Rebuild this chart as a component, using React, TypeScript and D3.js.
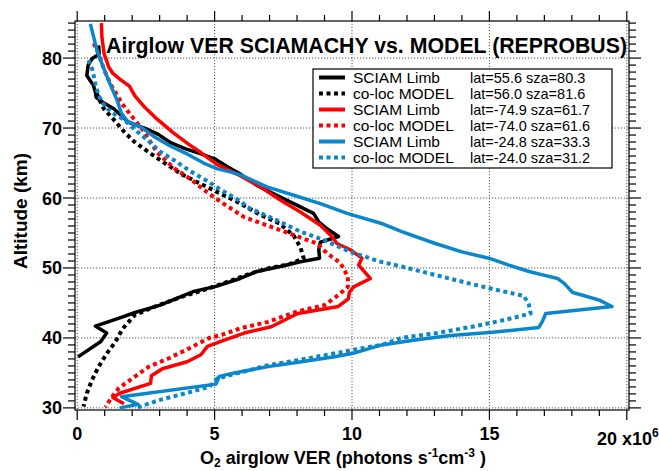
import React from "react";
import * as d3 from "d3";

type P = [number, number];

// [VER (1e6 photons s-1 cm-3), altitude km]
const blackLimb: P[] = [
  [0.78, 81.8], [0.8, 80.6], [0.54, 79.9], [0.4, 79.0], [0.35, 77.5], [0.47, 76.8], [0.59, 76.1],
  [0.66, 75.2], [0.69, 74.4], [0.96, 73.6], [1.32, 72.8], [1.6, 71.8], [1.87, 70.8], [2.45, 70.0],
  [2.95, 69.1], [3.4, 67.9], [3.9, 67.1], [4.5, 66.3], [5.0, 65.6], [5.5, 64.4], [5.9, 63.5],
  [6.54, 61.8], [7.15, 60.6], [7.88, 59.2], [8.6, 57.8], [8.79, 56.6], [9.09, 55.6], [9.51, 54.5],
  [9.19, 54.1], [8.85, 53.7], [8.79, 52.6], [8.82, 51.4], [8.12, 50.9], [7.39, 50.2], [6.54, 49.5],
  [5.93, 48.5], [5.08, 47.4], [4.2, 46.6], [3.02, 44.7], [2.08, 43.6], [1.5, 42.8], [0.66, 41.7],
  [1.07, 40.7], [0.86, 39.5], [0.03, 37.3],
];
const blackModel: P[] = [
  [0.7, 75.0], [0.96, 72.8], [1.33, 71.2], [1.7, 69.5], [2.06, 68.1], [2.55, 66.7], [3.1, 65.2],
  [3.8, 63.4], [4.4, 62.2], [4.97, 61.1], [5.8, 59.5], [6.66, 57.6], [7.39, 56.3], [7.88, 54.6],
  [8.12, 53.0], [8.24, 51.4], [7.7, 50.5], [7.0, 50.0], [6.3, 49.2], [5.6, 48.2], [4.8, 47.1],
  [3.9, 46.0], [2.9, 44.6], [2.1, 43.3], [1.65, 41.3], [1.4, 39.5], [1.08, 37.8], [0.78, 35.9],
  [0.54, 34.0], [0.35, 32.1], [0.23, 30.2],
];
const redLimb: P[] = [
  [0.88, 85.0], [0.9, 83.0], [0.98, 80.6], [1.15, 78.7], [1.3, 77.8], [1.55, 77.0], [1.9, 76.0],
  [2.1, 74.6], [2.45, 73.0], [2.9, 71.3], [3.5, 69.3], [4.05, 67.7], [4.5, 66.5], [5.08, 64.8],
  [5.93, 63.2], [6.66, 61.6], [7.39, 59.7], [8.12, 58.0], [8.85, 56.1], [9.27, 54.5], [9.45, 53.5],
  [9.94, 52.6], [10.36, 51.4], [10.24, 50.4], [10.67, 48.5], [10.06, 47.3], [9.9, 46.5],
  [9.87, 45.6], [9.5, 44.5], [8.77, 44.0], [8.03, 43.5], [7.06, 41.6], [6.08, 40.7], [5.23, 39.5],
  [4.74, 38.8], [4.5, 37.6], [4.0, 36.6], [3.1, 35.6], [2.7, 34.6], [2.67, 33.5], [1.55, 32.1],
  [1.3, 31.5], [1.7, 30.6],
];
const redModel: P[] = [
  [0.6, 82.1], [0.78, 80.6], [0.9, 79.2], [1.09, 77.3], [1.27, 75.9], [1.45, 74.7], [1.63, 73.5],
  [1.94, 71.9], [2.43, 69.5], [2.91, 66.5], [3.55, 64.2], [4.13, 62.7], [4.6, 61.2], [5.2, 59.5],
  [6.06, 57.3], [6.9, 56.1], [7.88, 54.7], [8.73, 53.5], [9.09, 52.1], [9.58, 50.7], [9.85, 48.8],
  [9.85, 47.3], [9.5, 46.1], [9.0, 44.7], [8.03, 43.8], [6.94, 42.3], [5.96, 41.4], [5.23, 40.4],
  [4.8, 40.0], [4.07, 38.5], [3.34, 37.1], [2.61, 35.9], [2.0, 34.2], [1.51, 32.8], [1.27, 31.6],
  [1.02, 30.1],
];
const blueLimb: P[] = [
  [0.48, 84.9], [0.6, 83.0], [0.72, 81.1], [0.9, 79.2], [1.09, 77.3], [1.27, 75.6], [1.45, 74.0],
  [1.6, 72.2], [1.82, 71.0], [2.3, 70.2], [2.79, 68.8], [3.4, 67.4], [4.0, 66.3], [4.6, 65.0],
  [5.08, 64.2], [5.6, 63.7], [6.0, 63.2], [6.9, 61.6], [7.88, 60.4], [8.85, 59.2], [9.82, 57.8],
  [11.05, 56.4], [11.81, 55.2], [13.03, 53.5], [14.0, 52.3], [14.98, 51.4], [15.71, 50.4],
  [16.44, 49.5], [17.05, 48.9], [17.48, 48.5], [17.72, 47.8], [18.03, 46.5], [18.39, 46.1],
  [19.0, 45.4], [19.46, 44.5], [17.05, 43.5], [16.92, 42.3], [16.8, 41.5], [15.1, 40.8],
  [13.5, 40.3], [12.3, 39.7], [11.08, 39.0], [10.04, 37.8], [9.37, 37.3], [8.16, 36.6],
  [6.94, 35.9], [5.72, 35.0], [5.17, 34.5], [5.05, 33.4], [1.61, 31.6], [2.21, 30.5], [1.54, 30.0],
];
const blueModel: P[] = [
  [0.41, 79.7], [0.54, 78.5], [0.6, 77.5], [0.66, 76.3], [0.78, 74.7], [0.9, 73.7], [1.09, 72.8],
  [1.27, 72.2], [1.7, 71.2], [2.18, 69.5], [2.55, 68.3], [3.03, 66.6], [3.52, 65.4], [4.13, 63.8],
  [4.74, 62.4], [5.3, 61.0], [5.96, 59.5], [6.18, 58.7], [7.27, 56.8], [8.12, 55.2], [8.97, 54.0],
  [9.94, 52.3], [11.03, 50.9], [11.81, 50.2], [13.03, 49.0], [14.25, 47.8], [15.22, 46.9],
  [16.26, 46.0], [16.44, 44.7], [16.5, 43.5], [15.59, 42.6], [14.5, 41.7], [13.1, 40.7],
  [11.8, 40.0], [11.08, 39.0], [10.04, 38.3], [8.16, 36.9], [6.94, 36.1], [5.1, 34.2],
  [4.8, 33.0], [3.95, 32.1], [2.97, 31.1], [2.15, 30.0],
];

const seriesNames = ["SCIAM Limb", "co-loc MODEL", "SCIAM Limb", "co-loc MODEL", "SCIAM Limb", "co-loc MODEL"];
const seriesInfo = [
  "lat=55.6 sza=80.3",
  "lat=56.0 sza=81.6",
  "lat=-74.9 sza=61.7",
  "lat=-74.0 sza=61.6",
  "lat=-24.8 sza=33.3",
  "lat=-24.0 sza=31.2",
];
const seriesData = [blackLimb, blackModel, redLimb, redModel, blueLimb, blueModel];
const seriesColors = ["#000000", "#000000", "#ff0000", "#ff0000", "#0a87cc", "#0a87cc"];
const seriesDotted = [false, true, false, true, false, true];

const xMajor = [0, 5, 10, 15, 20];
const xMinor = d3.range(0, 21, 1);
const yMajor = [30, 40, 50, 60, 70, 80];
const yMinor = d3.range(30, 86, 1);

const W = 659;
const H = 471;
const L = 75, R = 629, T = 21, B = 410;

export default function App() {
  const x = d3.scaleLinear().domain([-0.08, 20.08]).range([L, R]);
  const y = d3.scaleLinear().domain([29.7, 85.3]).range([B, T]);
  const line = d3.line<P>().x((d) => x(d[0])).y((d) => y(d[1]));
  const font = "'Liberation Sans', Arial, Helvetica, sans-serif";

  return (
    <svg width={W} height={H} style={{ position: "absolute", left: 0, top: 0, background: "#fff" }} fontFamily={font}>
      <defs>
        <clipPath id="plotclip">
          <rect x={L} y={T} width={R - L} height={B - T} />
        </clipPath>
      </defs>
      <rect x={0} y={0} width={W} height={H} fill="#fff" />
      {/* grid */}
      <g stroke="#555" strokeWidth={1} strokeDasharray="1.2 1.8">
        {xMajor.map((v) => (
          <line key={"gx" + v} x1={x(v)} x2={x(v)} y1={T} y2={B} />
        ))}
        {yMajor.map((v) => (
          <line key={"gy" + v} x1={L} x2={R} y1={y(v)} y2={y(v)} />
        ))}
      </g>
      {/* frame */}
      <rect x={L} y={T} width={R - L} height={B - T} fill="none" stroke="#000" strokeWidth={1.2} />
      {/* ticks */}
      <g stroke="#000" strokeWidth={1.2}>
        {xMinor.map((v) => {
          const big = v % 5 === 0;
          const len = big ? 10 : 6;
          return (
            <g key={"tx" + v}>
              <line x1={x(v)} x2={x(v)} y1={B} y2={B + len} />
              <line x1={x(v)} x2={x(v)} y1={T} y2={T - len} />
            </g>
          );
        })}
        {yMinor.map((v) => {
          const big = v % 10 === 0;
          const len = big ? 12 : 7;
          return (
            <g key={"ty" + v}>
              <line x1={L} x2={L - len} y1={y(v)} y2={y(v)} />
              <line x1={R} x2={R + len} y1={y(v)} y2={y(v)} />
            </g>
          );
        })}
      </g>
      {/* tick labels */}
      <g fontWeight="bold" fontSize={18} fill="#000">
        {yMajor.map((v) => (
          <text key={"ly" + v} x={L - 13} y={y(v) + 6.5} textAnchor="end">
            {v}
          </text>
        ))}
        {xMajor.slice(0, 4).map((v) => (
          <text key={"lx" + v} x={x(v)} y={440} textAnchor="middle">
            {v}
          </text>
        ))}
        <text x={597} y={445} textAnchor="start">
          20 x10<tspan dy={-8} fontSize={12}>6</tspan>
        </text>
      </g>
      {/* axis titles */}
      <text x={343} y={464} textAnchor="middle" fontWeight="bold" fontSize={18}>
        O<tspan dy={2.5} fontSize={12}>2</tspan>
        <tspan dy={-2.5}> airglow VER (photons s</tspan>
        <tspan dy={-7} fontSize={12}>-1</tspan>
        <tspan dy={7}>cm</tspan>
        <tspan dy={-7} fontSize={12}>-3</tspan>
        <tspan dy={7}> )</tspan>
      </text>
      <text transform="translate(27,211) rotate(-90)" textAnchor="middle" fontWeight="bold" fontSize={19}>
        Altitude (km)
      </text>
      {/* data */}
      <g clipPath="url(#plotclip)" fill="none">
        {seriesData.map((d, i) => (
          <path
            key={"s" + i}
            d={line(d) || ""}
            stroke={seriesColors[i]}
            strokeWidth={seriesDotted[i] ? 4 : 3.5}
            strokeDasharray={seriesDotted[i] ? "4 3.5" : undefined}
            strokeLinejoin="round"
          />
        ))}
      </g>
      {/* title */}
      <text x={106} y={53} fontWeight="bold" fontSize={21.5} textLength={521} lengthAdjust="spacingAndGlyphs">
        Airglow VER SCIAMACHY vs. MODEL (REPROBUS)
      </text>
      {/* legend */}
      <g>
        <rect x={313} y={69} width={299} height={99} fill="#fff" stroke="#000" strokeWidth={1.2} />
        {seriesNames.map((n, i) => {
          const cy = 77.5 + i * 16;
          return (
            <g key={"lg" + i}>
              <line
                x1={319}
                x2={345}
                y1={cy}
                y2={cy}
                stroke={seriesColors[i]}
                strokeWidth={4}
                strokeDasharray={seriesDotted[i] ? "4 3.5" : undefined}
              />
              <text x={353} y={cy + 5.5} fontSize={15.5}>
                {n}
              </text>
              <text x={470} y={cy + 5.5} fontSize={14.5}>
                {seriesInfo[i]}
              </text>
            </g>
          );
        })}
      </g>
    </svg>
  );
}
